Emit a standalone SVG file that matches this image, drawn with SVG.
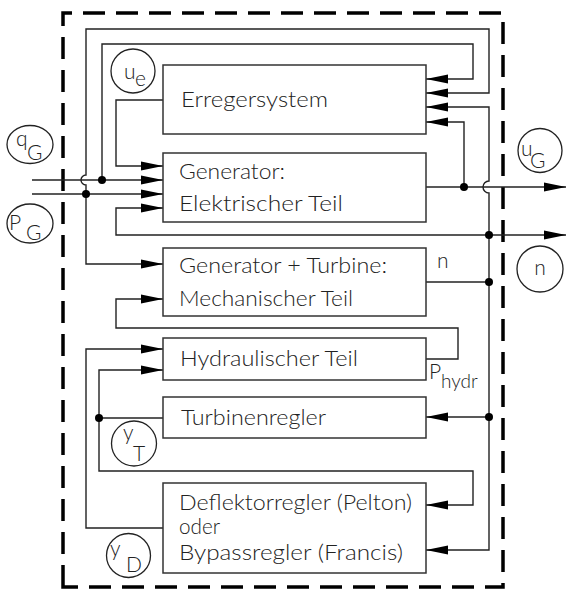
<svg xmlns="http://www.w3.org/2000/svg" width="566" height="590" viewBox="0 0 566 590">
<style>
.box{fill:#fff;stroke:#333;stroke-width:1.5}
.ln{fill:none;stroke:#222;stroke-width:1.4}
.arr{marker-end:url(#ah)}
.dot{fill:#000}
.sig{fill:none;stroke:#222;stroke-width:1.3}
text{font-family:Lato,"Liberation Sans",Arial,sans-serif;font-weight:300;fill:#222}
.lbl{font-size:22px}
.sym{font-size:21px}
.border{fill:none;stroke:#000;stroke-width:3.5;stroke-dasharray:22 11}
</style>
<defs>
<marker id="ah" markerWidth="22" markerHeight="10" refX="22" refY="5" orient="auto" markerUnits="userSpaceOnUse">
<path d="M0,0.5 L22,5 L0,9.5 Z" fill="#000"/>
</marker>
</defs>
<rect width="566" height="590" fill="#fff"/>
<path class="border" d="M63,587 V13 H503 V587 Z"/>

<g id="connectors">
<path class="ln arr" d="M86,194 V185 A5,5 0 0 1 86,175 V29 H489 V93 H426"/>
<path class="ln arr" d="M86,194 V264 H163"/>
<path class="ln arr" d="M102,180 V44 H473 V79 H426"/>
<path class="ln arr" d="M32,180 H163"/>
<path class="ln arr" d="M32,194 H163"/>
<path class="ln arr" d="M163,100 H116 V166 H163"/>
<path class="ln arr" d="M426,187 H566"/>
<path class="ln arr" d="M464,187 V122 H426"/>
<path class="ln" d="M426,282 H489"/>
<path class="ln arr" d="M489,282 V193 A6,6 0 0 1 489,181 V107 H426"/>
<path class="ln arr" d="M489,235 H566"/>
<path class="ln arr" d="M489,235 H116 V208 H163"/>
<path class="ln arr" d="M489,282 V550 H426"/>
<path class="ln arr" d="M489,417 H426"/>
<path class="ln arr" d="M426,359 H458 V328 H116 V299 H163"/>
<path class="ln" d="M163,418 H99"/>
<path class="ln arr" d="M99,418 V370 H163"/>
<path class="ln arr" d="M99,418 V471 H473 V505 H426"/>
<path class="ln arr" d="M163,528 H86 V349 H163"/>
<circle class="dot" cx="102" cy="180" r="4"/>
<circle class="dot" cx="86" cy="194" r="4"/>
<circle class="dot" cx="464" cy="187" r="4"/>
<circle class="dot" cx="489" cy="235" r="4"/>
<circle class="dot" cx="489" cy="282" r="4"/>
<circle class="dot" cx="489" cy="417" r="4"/>
<circle class="dot" cx="99" cy="418" r="4"/>
</g>

<g id="erregersystem">
<rect class="box" x="163" y="65" width="263" height="69"/>
<text class="lbl" x="181" y="107" textLength="147" lengthAdjust="spacingAndGlyphs">Erregersystem</text>
</g>
<g id="generator-elektrisch">
<rect class="box" x="163" y="153" width="263" height="69"/>
<text class="lbl" x="179" y="179" textLength="106" lengthAdjust="spacingAndGlyphs">Generator:</text>
<text class="lbl" x="179" y="211" textLength="164" lengthAdjust="spacingAndGlyphs">Elektrischer Teil</text>
</g>
<g id="generator-turbine">
<rect class="box" x="163" y="248" width="263" height="68"/>
<text class="lbl" x="179" y="273" textLength="208" lengthAdjust="spacingAndGlyphs">Generator + Turbine:</text>
<text class="lbl" x="179" y="306" textLength="174" lengthAdjust="spacingAndGlyphs">Mechanischer Teil</text>
<text class="sym" x="437" y="268">n</text>
</g>
<g id="hydraulischer-teil">
<rect class="box" x="163" y="338" width="263" height="42"/>
<text class="lbl" x="180" y="366" textLength="178" lengthAdjust="spacingAndGlyphs">Hydraulischer Teil</text>
<text class="sym" x="429" y="379">P</text>
<text x="441" y="388" font-size="19">hydr</text>
</g>
<g id="turbinenregler">
<rect class="box" x="163" y="397" width="263" height="41"/>
<text class="lbl" x="181" y="425" textLength="145" lengthAdjust="spacingAndGlyphs">Turbinenregler</text>
</g>
<g id="deflektorregler">
<rect class="box" x="163" y="483" width="263" height="90"/>
<text class="lbl" x="179" y="510" textLength="233" lengthAdjust="spacingAndGlyphs">Deflektorregler (Pelton)</text>
<text class="lbl" x="179" y="534" textLength="41" lengthAdjust="spacingAndGlyphs">oder</text>
<text class="lbl" x="179" y="560" textLength="224" lengthAdjust="spacingAndGlyphs">Bypassregler (Francis)</text>
</g>

<g id="sym-ue">
<circle class="sig" cx="133" cy="71" r="22"/>
<text class="sym" x="124" y="79">u</text>
<text class="sym" x="135" y="86">e</text>
</g>
<g id="sym-qG">
<ellipse class="sig" cx="30" cy="144.5" rx="23" ry="19"/>
<text class="sym" x="16" y="146">q</text>
<text class="sym" x="27" y="160">G</text>
</g>
<g id="sym-PG">
<ellipse class="sig" cx="30" cy="223.5" rx="23" ry="19.5"/>
<text class="sym" x="9" y="230">P</text>
<text class="sym" x="26" y="240">G</text>
</g>
<g id="sym-uG">
<circle class="sig" cx="540" cy="150.5" r="22"/>
<text class="sym" x="521" y="156">u</text>
<text class="sym" x="530" y="168">G</text>
</g>
<g id="sym-n">
<circle class="sig" cx="540" cy="269" r="23"/>
<text class="sym" x="540" y="275" text-anchor="middle">n</text>
</g>
<g id="sym-yT">
<circle class="sig" cx="134" cy="443.5" r="22.5"/>
<text class="sym" x="123" y="440">y</text>
<text class="sym" x="133" y="461">T</text>
</g>
<g id="sym-yD">
<circle class="sig" cx="128.5" cy="555.5" r="22"/>
<text class="sym" x="110" y="556">y</text>
<text class="sym" x="126" y="572">D</text>
</g>
</svg>
